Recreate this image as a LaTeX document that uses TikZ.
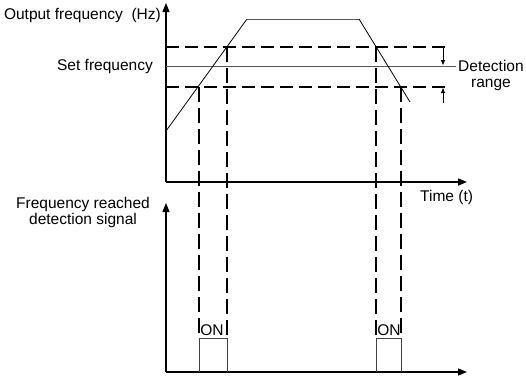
\documentclass[tikz,border=0pt]{standalone}
\usepackage{fontspec}
\setmainfont{Liberation Sans}
\usetikzlibrary{arrows.meta}

\begin{document}
\begin{tikzpicture}[x=1pt, y=-1pt,
    every node/.style={font=\fontsize{15.5}{16}\selectfont, inner sep=0pt},
    axis/.style={line width=1.4pt, -{Triangle[length=9pt,width=7pt]}},
    levelline/.style={line width=1.6pt, dash pattern=on 13pt off 6pt},
    dropline/.style={line width=1.6pt, dash pattern=on 15pt off 6pt},
    ramp/.style={line width=0.8pt},
    flatline/.style={line width=0.9pt, black!65},
    pulse/.style={line width=0.8pt, black!75},
    rangearrow/.style={line width=0.8pt, -{Triangle[length=5pt,width=4pt]}}]
    \useasboundingbox (0,0) rectangle (526,376);
    \coordinate (o1) at (166,182);
    \coordinate (y1) at (166,3);
    \coordinate (x1) at (467,182);
    \coordinate (o2) at (166,372);
    \coordinate (y2) at (166,203);
    \coordinate (x2) at (467,372);
    \coordinate (start) at (166,131);
    \coordinate (top1) at (247,19);
    \coordinate (top2) at (359,19);
    \coordinate (stop) at (410,102);
    \coordinate (hiL) at (166,47);
    \coordinate (hiR) at (445,47);
    \coordinate (loL) at (166,87);
    \coordinate (loR) at (445,87);
    \coordinate (setL) at (166,66);
    \coordinate (setR) at (456,66);
    \coordinate (up1) at (199,87);
    \coordinate (up2) at (227,47);
    \coordinate (dn1) at (376,47);
    \coordinate (dn2) at (401,87);
    \coordinate (on1) at (199,338);
    \coordinate (on2) at (227,338);
    \coordinate (on3) at (376,338);
    \coordinate (on4) at (401,338);
    \coordinate (b1) at (199,372);
    \coordinate (b2) at (227,372);
    \coordinate (b3) at (376,372);
    \coordinate (b4) at (401,372);
    \coordinate (arA) at (443,47);
    \coordinate (arB) at (443,65);
    \coordinate (arC) at (443,103);
    \coordinate (arD) at (443,88);

    \draw[axis] (o1) -- (y1);
    \draw[axis] (o1) -- (x1);
    \draw[axis] (o2) -- (y2);
    \draw[axis] (o2) -- (x2);

    \draw[flatline] (setL) -- (setR);
    \draw[levelline] (hiL) -- (hiR);
    \draw[levelline] (loL) -- (loR);
    \draw[ramp] (start) -- (top1);
    \draw[flatline] (top1) -- (top2);
    \draw[ramp] (top2) -- (stop);

    \draw[dropline] (up1) -- (on1);
    \draw[dropline] (up2) -- (on2);
    \draw[dropline] (dn1) -- (on3);
    \draw[dropline] (dn2) -- (on4);
    \draw[pulse] (b1) -- (on1) -- (on2) -- (b2);
    \draw[pulse] (b3) -- (on3) -- (on4) -- (b4);

    \draw[rangearrow] (arA) -- (arB);
    \draw[rangearrow] (arC) -- (arD);

    \node[anchor=east] (fout) at (161,15) {Output frequency \ (Hz)};
    \node[anchor=east] (fset) at (153,66) {Set frequency};
    \node[anchor=west, align=center] (range) at (458,75) {Detection\\range};
    \node[anchor=west] (time) at (420,197) {Time (t)};
    \node[align=center] (signal) at (83,212) {Frequency reached\\detection signal};
    \node[anchor=south] (on A) at (212,336) {ON};
    \node[anchor=south] (on B) at (389,336) {ON};
\end{tikzpicture}
\end{document}
